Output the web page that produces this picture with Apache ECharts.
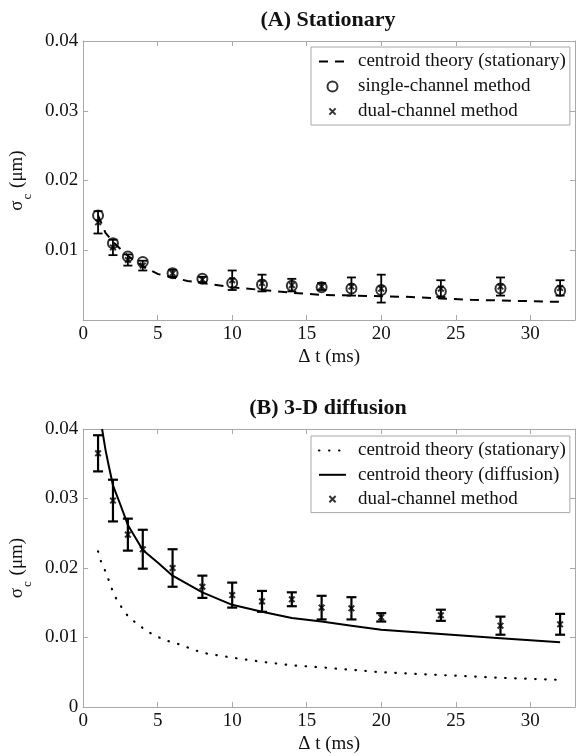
<!DOCTYPE html>
<html><head><meta charset="utf-8">
<script src="https://cdn.jsdelivr.net/npm/echarts@6/dist/echarts.min.js"></script>
<style>html,body{margin:0;padding:0;background:#fff}#c{width:576px;height:756px}</style>
</head><body><div id="c"></div>
<script>
// ---- data ----
const dt = [1, 2, 3, 4, 6, 8, 10, 12, 14, 16, 18, 20, 24, 28, 32];
// (A) Stationary
const singleA = [0.0150, 0.0110, 0.0091, 0.0083, 0.0067, 0.0059, 0.0053, 0.0051, 0.0049, 0.0047, 0.0045, 0.0043, 0.0041, 0.0045, 0.0042];
const dualA = [0.0140, 0.0104, 0.0086, 0.0078, 0.0067, 0.0058, 0.0057, 0.0053, 0.0050, 0.0048, 0.0048, 0.0045, 0.0045, 0.0048, 0.0046];
const dualAErr = [0.0016, 0.0011, 0.0008, 0.0007, 0.0005, 0.0004, 0.0014, 0.0012, 0.0009, 0.0005, 0.0013, 0.0020, 0.0012, 0.0013, 0.0011];
const theoryA_t = [1, 1.5, 2, 3, 4, 5, 6, 7, 8, 10, 12, 14, 16, 18, 20, 22, 24, 26, 28, 30, 32];
const theoryA_v = [0.0150, 0.0125, 0.0112, 0.0092, 0.0077, 0.0066, 0.0061, 0.0056, 0.0053, 0.0047, 0.0043, 0.0039, 0.0036, 0.0035, 0.0034, 0.0033, 0.0031, 0.0029, 0.0028, 0.0027, 0.0026];
// (B) 3-D diffusion
const dualB = [0.0365, 0.0297, 0.0248, 0.0227, 0.0200, 0.0173, 0.0161, 0.0152, 0.0155, 0.0143, 0.0142, 0.0129, 0.0132, 0.0117, 0.0119];
const dualBErr = [0.0026, 0.0030, 0.0023, 0.0028, 0.0027, 0.0016, 0.0018, 0.0015, 0.0010, 0.0017, 0.0016, 0.0006, 0.0008, 0.0013, 0.0015];
const statB_t = [1, 1.2, 1.5, 2, 2.3, 2.7, 3.1, 3.7, 4.2, 4.9, 5.5, 6.2, 8, 10, 12, 14, 16, 20, 24, 28, 32];
const statB_v = [0.0224, 0.0209, 0.0195, 0.0166, 0.0152, 0.0140, 0.0128, 0.0119, 0.0110, 0.0102, 0.0096, 0.0092, 0.0078, 0.0071, 0.0065, 0.0060, 0.0057, 0.0050, 0.0046, 0.0042, 0.0039];
const diffB_t = [1.27, 1.5, 1.7, 2, 2.5, 3, 4, 5, 6, 8, 10, 12, 14, 16, 18, 20, 24, 28, 32];
const diffB_v = [0.0400, 0.0370, 0.0349, 0.0319, 0.0291, 0.0262, 0.0226, 0.0208, 0.0189, 0.0165, 0.0147, 0.0137, 0.0128, 0.0123, 0.0117, 0.0111, 0.0105, 0.0099, 0.0093];
const xTicks = {min: 0, max: 33, interval: 5};
const yTicks = {min: 0, max: 0.04, interval: 0.01};
const titles = ['(A) Stationary', '(B) 3-D diffusion'];
const names = {
  statTheory: 'centroid theory (stationary)',
  diffTheory: 'centroid theory (diffusion)',
  single: 'single-channel method',
  dual: 'dual-channel method'
};

// ---- chart ----
const FONT = "'Liberation Serif','Times New Roman',serif";
const AX = '#a8a8a8';
const TXT = '#111';
const CROSS = 'path://M-3,-3M0,0L10,10M10,0L0,10M13,13';
const NOSYM = {color: 'transparent', borderColor: 'transparent', borderWidth: 0, opacity: 0};

const zip = (a, b) => a.map((v, i) => [v, b[i]]);
const errData = (c, e) => dt.map((t, i) => [t, c[i] - e[i], c[i] + e[i]]);

function errRender(capHalf, lw) {
  return function (params, api) {
    const x = api.value(0), lo = api.value(1), hi = api.value(2);
    const a = api.coord([x, lo]), b = api.coord([x, hi]);
    const style = {stroke: '#000', lineWidth: lw, fill: null};
    return {type: 'group', children: [
      {type: 'line', shape: {x1: a[0], y1: a[1], x2: b[0], y2: b[1]}, style},
      {type: 'line', shape: {x1: a[0] - capHalf, y1: a[1], x2: a[0] + capHalf, y2: a[1]}, style},
      {type: 'line', shape: {x1: b[0] - capHalf, y1: b[1], x2: b[0] + capHalf, y2: b[1]}, style}
    ]};
  };
}

function xAxes(g) {
  const common = {type: 'value', gridIndex: g, min: xTicks.min, max: xTicks.max, interval: xTicks.interval,
    axisLine: {show: true, onZero: false, lineStyle: {color: AX, width: 1}},
    axisTick: {show: true, inside: true, length: 5, lineStyle: {color: AX}},
    splitLine: {show: false}};
  return [
    Object.assign({}, common, {position: 'bottom',
      axisLabel: {showMaxLabel: false, color: TXT, fontFamily: FONT, fontSize: 19, margin: 5},
      name: 'Δ t (ms)', nameLocation: 'middle', nameGap: 28,
      nameTextStyle: {color: TXT, fontFamily: FONT, fontSize: 19}}),
    Object.assign({}, common, {position: 'top', axisLabel: {show: false}})
  ];
}
function yAxes(g, showZero) {
  const common = {type: 'value', gridIndex: g, min: yTicks.min, max: yTicks.max, interval: yTicks.interval,
    axisLine: {show: true, onZero: false, lineStyle: {color: AX, width: 1}},
    axisTick: {show: true, inside: true, length: 5, lineStyle: {color: AX}},
    splitLine: {show: false}};
  return [
    Object.assign({}, common, {position: 'left',
      axisLabel: {color: TXT, fontFamily: FONT, fontSize: 19, margin: 5,
        formatter: v => v === 0 ? (showZero ? '0' : '') : v.toFixed(2)},
      name: '{s|σ}{c|c}{s| (μm)}', nameLocation: 'middle', nameGap: 47,
      nameTextStyle: {color: TXT, fontFamily: FONT, fontSize: 19,
        rich: {s: {fontFamily: FONT, fontSize: 19, color: TXT, lineHeight: 26, verticalAlign: 'top'},
               c: {fontFamily: FONT, fontSize: 13, color: TXT, lineHeight: 14, verticalAlign: 'bottom', padding: [0, 1, 0, 1]}}}}),
    Object.assign({}, common, {position: 'right', axisLabel: {show: false}})
  ];
}

const legendBase = {
  orient: 'vertical', left: 311, padding: [5, 4, 4, 7], itemWidth: 27, itemHeight: 10,
  backgroundColor: '#fff', borderColor: AX, borderWidth: 1, borderRadius: 0, selectedMode: false,
  textStyle: {fontFamily: FONT, fontSize: 19, color: TXT, lineHeight: 19, padding: [0, 0, 0, 7]},
  formatter: n => n.trim()
};

const option = {
  animation: false,
  backgroundColor: '#fff',
  title: [
    {text: titles[0], left: 328, top: 9, textAlign: 'center', padding: 0,
     textStyle: {fontFamily: FONT, fontSize: 22, fontWeight: 'bold', color: TXT}},
    {text: titles[1], left: 328, top: 397, textAlign: 'center', padding: 0,
     textStyle: {fontFamily: FONT, fontSize: 22, fontWeight: 'bold', color: TXT}}
  ],
  grid: [
    {left: 81, top: 41, width: 494, height: 279},
    {left: 81, top: 429, width: 494, height: 278}
  ],
  xAxis: [...xAxes(0), ...xAxes(1)],
  yAxis: [...yAxes(0, false), ...yAxes(1, true)],
  legend: [
    Object.assign({}, legendBase, {top: 47, itemGap: 6,
      data: [{name: names.statTheory, itemStyle: NOSYM},
             {name: names.single, itemStyle: {color: 'transparent', borderColor: '#000', borderWidth: 2}},
             {name: names.dual, itemStyle: {color: '#000', borderColor: '#000', borderWidth: 2}}]}),
    Object.assign({}, legendBase, {top: 436, itemGap: 5.3,
      data: [{name: names.statTheory + ' ', itemStyle: NOSYM},
             {name: names.diffTheory + ' ', itemStyle: NOSYM},
             {name: names.dual + ' ', itemStyle: {color: '#000', borderColor: '#000', borderWidth: 2}}]})
  ],
  series: [
    // (A)
    {type: 'line', name: names.statTheory, xAxisIndex: 0, yAxisIndex: 0, data: zip(theoryA_t, theoryA_v),
     symbol: 'none', itemStyle: {color: '#000'}, lineStyle: {color: '#000', width: 2, type: [9, 7]}, z: 2},
    {type: 'custom', name: 'errA', xAxisIndex: 0, yAxisIndex: 0, data: errData(dualA, dualAErr),
     encode: {x: 0, y: [1, 2]}, renderItem: errRender(4.5, 1.8), z: 3},
    {type: 'scatter', name: names.dual, xAxisIndex: 0, yAxisIndex: 0, data: zip(dt, dualA),
     symbol: CROSS, symbolSize: 9, itemStyle: {color: '#000', borderColor: '#000', borderWidth: 2}, z: 4},
    {type: 'scatter', name: names.single, xAxisIndex: 0, yAxisIndex: 0, data: zip(dt, singleA),
     symbol: 'circle', symbolSize: 10, itemStyle: {color: 'transparent', borderColor: '#000', borderWidth: 2}, z: 5},
    // (B)
    {type: 'line', name: names.statTheory + ' ', xAxisIndex: 2, yAxisIndex: 2, data: zip(statB_t, statB_v),
     symbol: 'none', itemStyle: {color: '#000'}, lineStyle: {color: '#000', width: 2.2, type: [0.5, 9.5], cap: 'round'}, z: 2},
    {type: 'line', name: names.diffTheory + ' ', xAxisIndex: 2, yAxisIndex: 2, data: zip(diffB_t, diffB_v),
     symbol: 'none', itemStyle: {color: '#000'}, lineStyle: {color: '#000', width: 2}, z: 2},
    {type: 'custom', name: 'errB', xAxisIndex: 2, yAxisIndex: 2, data: errData(dualB, dualBErr),
     encode: {x: 0, y: [1, 2]}, renderItem: errRender(5, 2.2), z: 3},
    {type: 'scatter', name: names.dual + ' ', xAxisIndex: 2, yAxisIndex: 2, data: zip(dt, dualB),
     symbol: CROSS, symbolSize: 9, itemStyle: {color: '#000', borderColor: '#000', borderWidth: 2}, z: 4}
  ]
};

const chart = echarts.init(document.getElementById('c'), null, {renderer: 'canvas'});
chart.setOption(option);
</script>
</body></html>
